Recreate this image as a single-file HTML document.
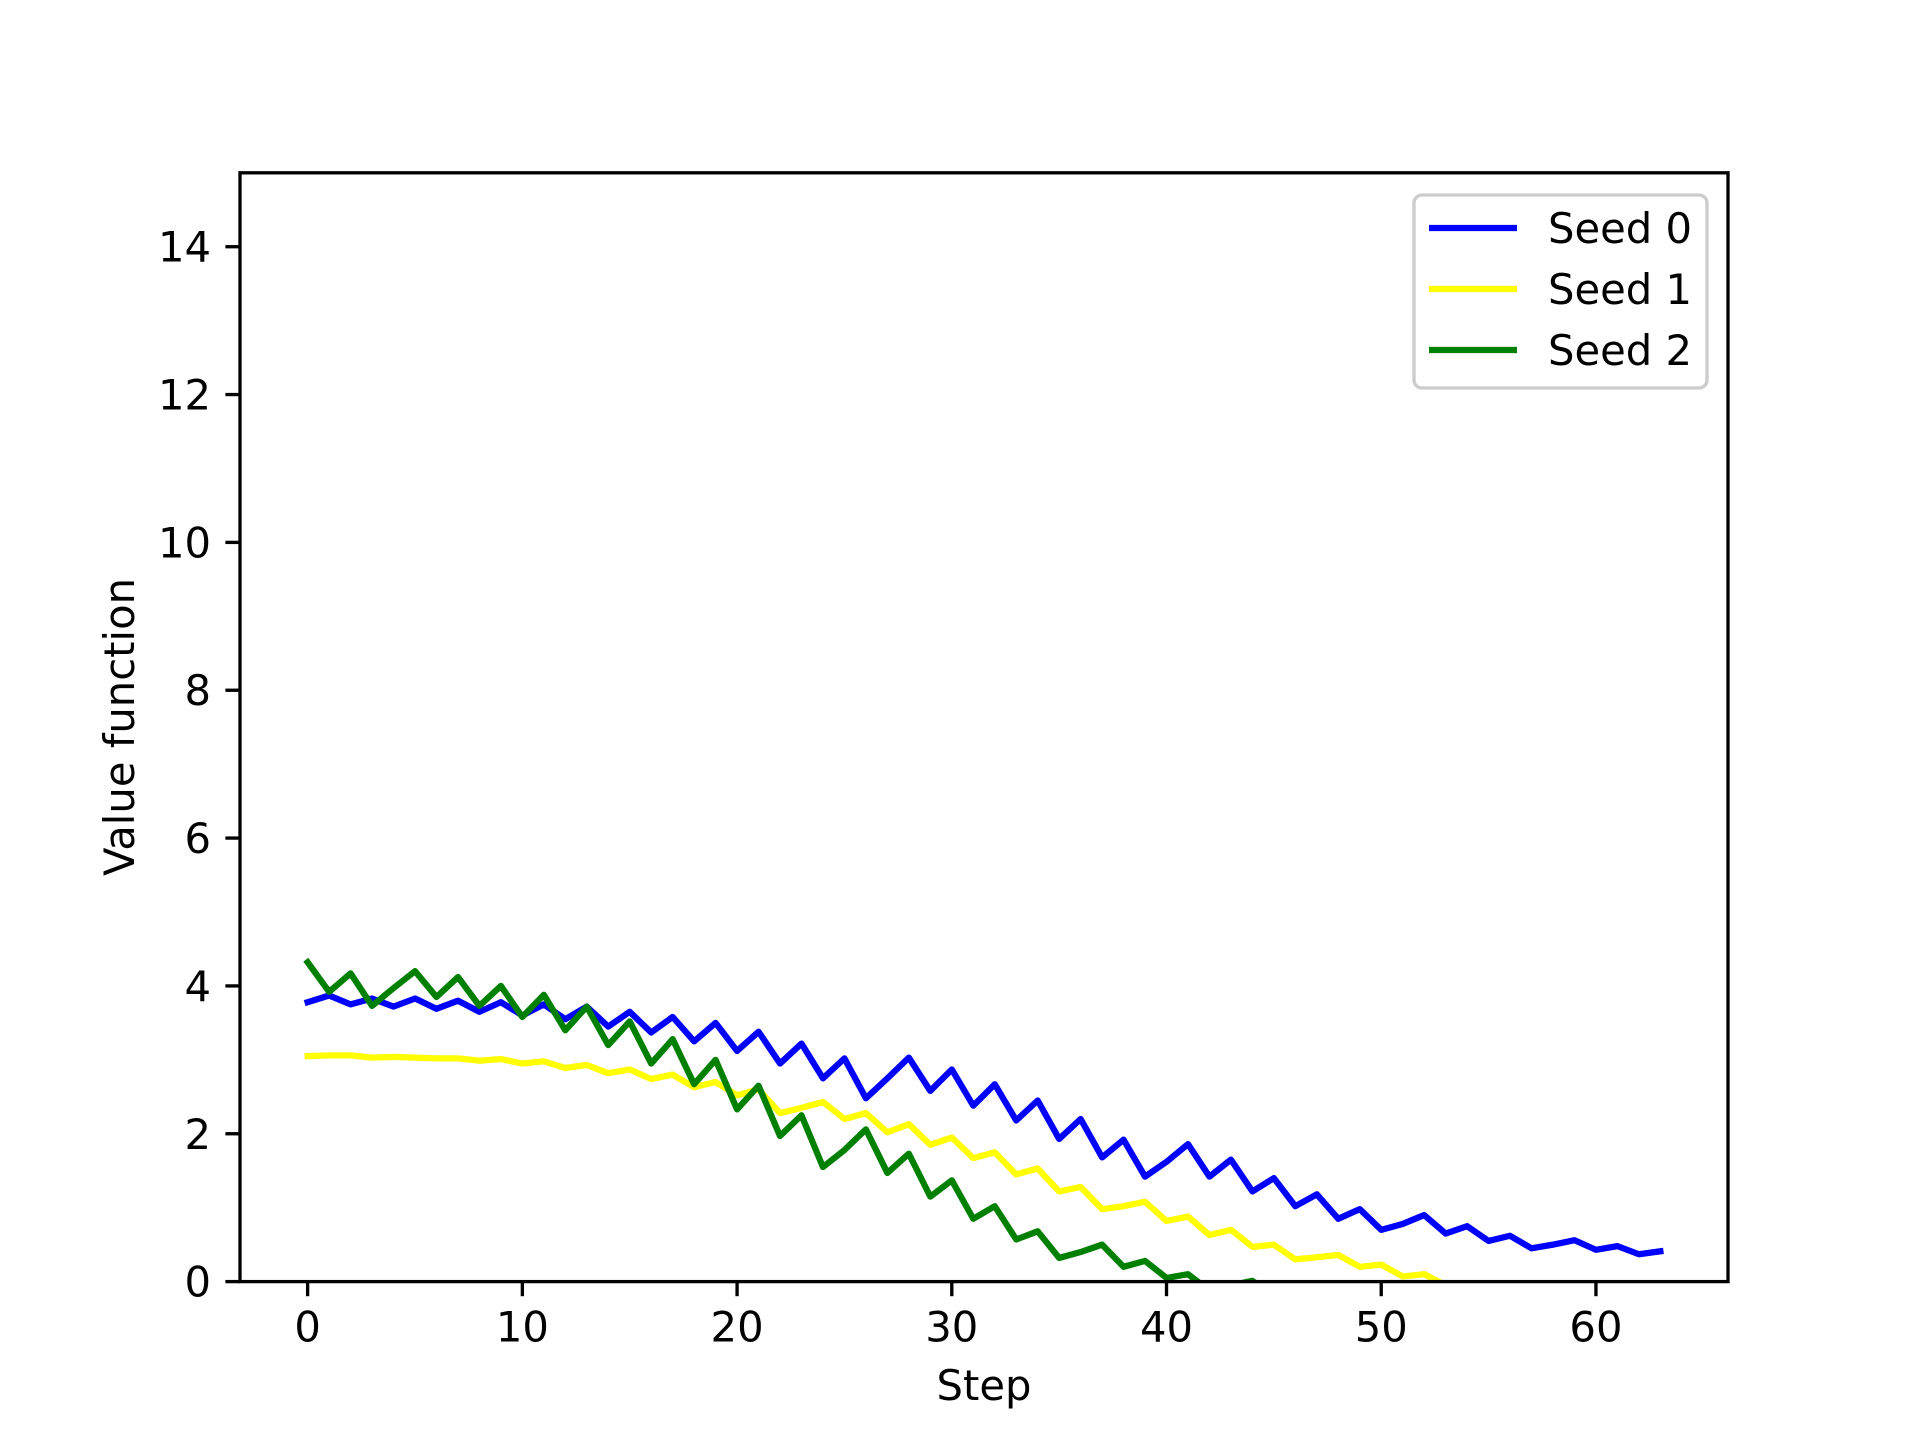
<!DOCTYPE html>
<html><head><meta charset="utf-8"><style>
body{margin:0;background:#fff;}
svg{display:block;font-family:"DejaVu Sans","Liberation Sans",sans-serif;}
</style></head><body>
<svg id="chart" width="1920" height="1440" xmlns="http://www.w3.org/2000/svg"></svg>
<script>
const seed0 = [3.78,3.87,3.75,3.83,3.72,3.83,3.69,3.80,3.65,3.78,3.60,3.75,3.55,3.72,3.45,3.65,3.37,3.58,3.25,3.50,3.12,3.38,2.95,3.22,2.75,3.02,2.48,2.75,3.03,2.58,2.87,2.38,2.67,2.18,2.45,1.93,2.20,1.68,1.92,1.42,1.62,1.86,1.42,1.65,1.22,1.40,1.02,1.18,0.85,0.98,0.70,0.78,0.90,0.65,0.75,0.55,0.62,0.45,0.50,0.56,0.43,0.48,0.37,0.41];
const seed1 = [3.05,3.06,3.06,3.03,3.04,3.03,3.02,3.02,2.99,3.01,2.95,2.98,2.89,2.93,2.82,2.87,2.74,2.80,2.63,2.70,2.52,2.60,2.28,2.35,2.43,2.20,2.28,2.02,2.13,1.85,1.95,1.67,1.75,1.45,1.53,1.22,1.28,0.98,1.02,1.08,0.82,0.88,0.63,0.70,0.47,0.50,0.30,0.33,0.36,0.20,0.23,0.07,0.10,-0.05,-0.10,-0.20,-0.18,-0.30,-0.28,-0.40,-0.38,-0.50,-0.48,-0.60];
const seed2 = [4.32,3.92,4.17,3.73,3.97,4.20,3.85,4.12,3.73,4.00,3.58,3.88,3.40,3.72,3.20,3.52,2.95,3.28,2.67,3.00,2.33,2.65,1.97,2.25,1.55,1.78,2.06,1.47,1.73,1.15,1.37,0.85,1.02,0.57,0.68,0.32,0.40,0.50,0.20,0.28,0.05,0.10,-0.12,-0.05,0.01,-0.20,-0.15,-0.30,-0.25,-0.40,-0.35,-0.50,-0.45,-0.60,-0.55,-0.70,-0.65,-0.80,-0.75,-0.90,-0.85,-1.00,-0.95,-1.10];
const xTicks = [0,10,20,30,40,50,60];
const yTicks = [0,2,4,6,8,10,12,14];
const seriesNames = ["Seed 0","Seed 1","Seed 2"];
const seriesColors = ["#0000ff","#ffff00","#008000"];

const L=240,R=1728,T=172.8,B=1281.6;
const xMin=-3.15,xMax=66.15,yMin=0,yMax=15;
const sx=v=>L+(v-xMin)/(xMax-xMin)*(R-L);
const sy=v=>B-(v-yMin)/(yMax-yMin)*(B-T);
const svg=document.getElementById('chart');
const NS='http://www.w3.org/2000/svg';
function mk(tag,attrs,parent){const e=document.createElementNS(NS,tag);for(const k in attrs)e.setAttribute(k,attrs[k]);(parent||svg).appendChild(e);return e;}

const defs=mk('defs',{});
const cp=mk('clipPath',{id:'clip'},defs);
mk('rect',{x:L,y:T,width:R-L,height:B-T},cp);

const series=[seed0,seed1,seed2];
series.forEach((d,i)=>{
  const pts=d.map((v,j)=>sx(j).toFixed(2)+','+sy(v).toFixed(2)).join(' ');
  const pl=mk('polyline',{points:pts,fill:'none',stroke:seriesColors[i],'stroke-width':6.25,'stroke-linejoin':'round','stroke-linecap':'square','clip-path':'url(#clip)'});
  
  
});

const frame=mk('rect',{x:L,y:T,width:R-L,height:B-T,fill:'none',stroke:'#000','stroke-width':3.33});



xTicks.forEach(t=>{
  const x=sx(t);
  const tk=mk('line',{x1:x,x2:x,y1:B,y2:B+14.6,stroke:'#000','stroke-width':3.33});
  
  
  const tx=mk('text',{x:x,y:B+60,'text-anchor':'middle','font-size':41.7});
  tx.textContent=t;
  
  
});
yTicks.forEach(t=>{
  const y=sy(t);
  const tk=mk('line',{x1:L-14.6,x2:L,y1:y,y2:y,stroke:'#000','stroke-width':3.33});
  
  
  const tx=mk('text',{x:L-29,y:y+15,'text-anchor':'end','font-size':41.7});
  tx.textContent=t;
  
  
});

const xl=mk('text',{x:(L+R)/2,y:1400,'text-anchor':'middle','font-size':41.7});
xl.textContent='Step';


const yl=mk('text',{x:0,y:0,'text-anchor':'middle','font-size':41.7,transform:'translate(134,727) rotate(-90)'});
yl.textContent='Value function';



const lg=mk('g',{});


mk('rect',{x:1414,y:195,width:293,height:193,rx:8,fill:'#fff','fill-opacity':0.8,stroke:'#cccccc','stroke-width':3.33},lg);
seriesNames.forEach((n,i)=>{
  const y=228+i*61;
  const ln=mk('line',{x1:1429,x2:1517,y1:y,y2:y,stroke:seriesColors[i],'stroke-width':6.25},lg);
  
  
  const tx=mk('text',{x:1548,y:y+15,'font-size':41.7},lg);
  tx.textContent=n;
  
  
});
</script>
</body></html>
